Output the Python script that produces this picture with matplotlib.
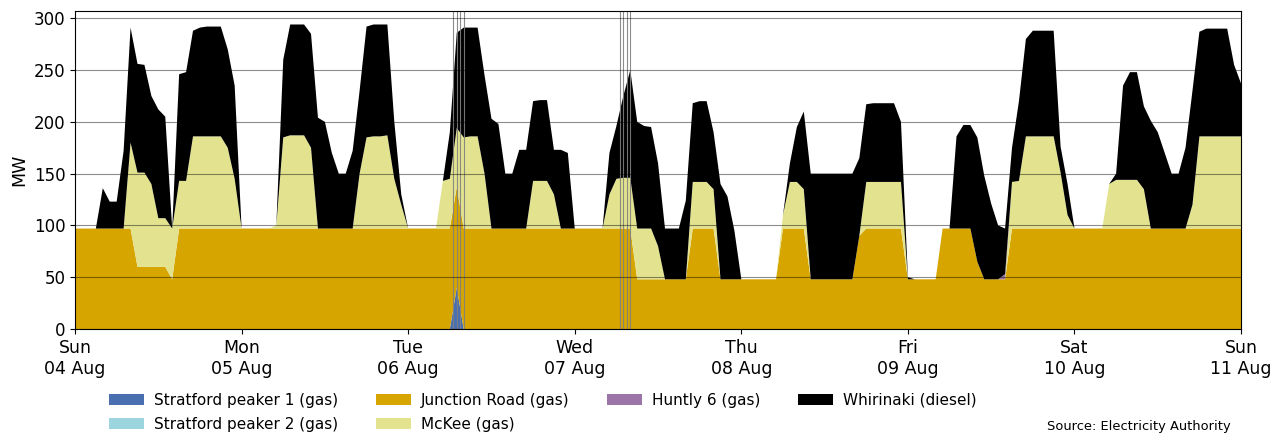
import numpy as np
import pandas as pd
import matplotlib
matplotlib.use("Agg")
import matplotlib.pyplot as plt
import matplotlib.dates as mdates

# hourly generation (MW), Sun 04 Aug 00:00 -> Sun 11 Aug 00:00
horas = pd.date_range("2024-08-04 00:00", periods=169, freq="h")

stratford_1 = [
    0, 0, 0, 0, 0, 0, 0, 0, 0, 0, 0, 0, 0, 0, 0, 0, 0, 0, 0, 0, 0, 0, 0, 0,   # Sun
    0, 0, 0, 0, 0, 0, 0, 0, 0, 0, 0, 0, 0, 0, 0, 0, 0, 0, 0, 0, 0, 0, 0, 0,   # Mon
    0, 0, 0, 0, 0, 0, 0, 40, 0, 0, 0, 0, 0, 0, 0, 0, 0, 0, 0, 0, 0, 0, 0, 0,  # Tue
    0, 0, 0, 0, 0, 0, 0, 0, 0, 0, 0, 0, 0, 0, 0, 0, 0, 0, 0, 0, 0, 0, 0, 0,   # Wed
    0, 0, 0, 0, 0, 0, 0, 0, 0, 0, 0, 0, 0, 0, 0, 0, 0, 0, 0, 0, 0, 0, 0, 0,   # Thu
    0, 0, 0, 0, 0, 0, 0, 0, 0, 0, 0, 0, 0, 0, 0, 0, 0, 0, 0, 0, 0, 0, 0, 0,   # Fri
    0, 0, 0, 0, 0, 0, 0, 0, 0, 0, 0, 0, 0, 0, 0, 0, 0, 0, 0, 0, 0, 0, 0, 0,   # Sat
    0]

stratford_2 = [
    0, 0, 0, 0, 0, 0, 0, 0, 0, 0, 0, 0, 0, 0, 0, 0, 0, 0, 0, 0, 0, 0, 0, 0,
    0, 0, 0, 0, 0, 0, 0, 0, 0, 0, 0, 0, 0, 0, 0, 0, 0, 0, 0, 0, 0, 0, 0, 0,
    0, 0, 0, 0, 0, 0, 0, 0, 0, 0, 0, 0, 0, 0, 0, 0, 0, 0, 0, 0, 0, 0, 0, 0,
    0, 0, 0, 0, 0, 0, 0, 0, 0, 0, 0, 0, 0, 0, 0, 0, 0, 0, 0, 0, 0, 0, 0, 0,
    0, 0, 0, 0, 0, 0, 0, 0, 0, 0, 0, 0, 0, 0, 0, 0, 0, 0, 0, 0, 0, 0, 0, 0,
    0, 0, 0, 0, 0, 0, 0, 0, 0, 0, 0, 0, 0, 0, 0, 0, 0, 0, 0, 0, 0, 0, 0, 0,
    0, 0, 0, 0, 0, 0, 0, 0, 0, 0, 0, 0, 0, 0, 0, 0, 0, 0, 0, 0, 0, 0, 0, 0,
    0]

junction_road = [
    97, 97, 97, 97, 97, 97, 97, 97, 97, 60, 60, 60, 60, 60, 48, 97, 97, 97, 97, 97, 97, 97, 97, 97,
    97, 97, 97, 97, 97, 97, 97, 97, 97, 97, 97, 97, 97, 97, 97, 97, 97, 97, 97, 97, 97, 97, 97, 97,
    97, 97, 97, 97, 97, 97, 97, 97, 97, 97, 97, 97, 97, 97, 97, 97, 97, 97, 97, 97, 97, 97, 97, 97,
    97, 97, 97, 97, 97, 97, 97, 97, 97, 48, 48, 48, 48, 48, 48, 48, 48, 97, 97, 97, 97, 48, 48, 48,
    48, 48, 48, 48, 48, 48, 97, 97, 97, 97, 48, 48, 48, 48, 48, 48, 48, 90, 97, 97, 97, 97, 97, 97,
    48, 48, 48, 48, 48, 97, 97, 97, 97, 97, 65, 48, 48, 48, 48, 97, 97, 97, 97, 97, 97, 97, 97, 97,
    97, 97, 97, 97, 97, 97, 97, 97, 97, 97, 97, 97, 97, 97, 97, 97, 97, 97, 97, 97, 97, 97, 97, 97,
    97]

mckee = [
    0, 0, 0, 0, 0, 0, 0, 0, 83, 91, 91, 80, 47, 47, 49, 46, 46, 89, 89, 89, 89, 89, 78, 48,
    0, 0, 0, 0, 0, 3, 88, 90, 90, 90, 78, 0, 0, 0, 0, 0, 0, 53, 88, 89, 89, 90, 48, 23,
    0, 0, 0, 0, 0, 46, 48, 57, 88, 89, 89, 53, 0, 0, 0, 0, 0, 0, 46, 46, 46, 33, 0, 0,
    0, 0, 0, 0, 0, 33, 48, 49, 49, 49, 49, 49, 32, 0, 0, 0, 0, 45, 45, 45, 38, 0, 0, 0,
    0, 0, 0, 0, 0, 0, 13, 45, 45, 38, 0, 0, 0, 0, 0, 0, 0, 0, 45, 45, 45, 45, 45, 45,
    0, 0, 0, 0, 0, 0, 0, 0, 0, 0, 0, 0, 0, 0, 0, 45, 46, 89, 89, 89, 89, 89, 54, 13,
    0, 0, 0, 0, 0, 43, 47, 47, 47, 47, 38, 0, 0, 0, 0, 0, 0, 23, 89, 89, 89, 89, 89, 89,
    89]

huntly_6 = [
    0, 0, 0, 0, 0, 0, 0, 0, 0, 0, 0, 0, 0, 0, 0, 0, 0, 0, 0, 0, 0, 0, 0, 0,
    0, 0, 0, 0, 0, 0, 0, 0, 0, 0, 0, 0, 0, 0, 0, 0, 0, 0, 0, 0, 0, 0, 0, 0,
    0, 0, 0, 0, 0, 0, 0, 0, 0, 0, 0, 0, 0, 0, 0, 0, 0, 0, 0, 0, 0, 0, 0, 0,
    0, 0, 0, 0, 0, 0, 0, 0, 0, 0, 0, 0, 0, 0, 0, 0, 0, 0, 0, 0, 0, 0, 0, 0,
    0, 0, 0, 0, 0, 0, 0, 0, 0, 0, 0, 0, 0, 0, 0, 0, 0, 0, 0, 0, 0, 0, 0, 0,
    0, 0, 0, 0, 0, 0, 0, 0, 0, 0, 0, 0, 0, 0, 5, 0, 0, 0, 0, 0, 0, 0, 0, 0,
    0, 0, 0, 0, 0, 0, 0, 0, 0, 0, 0, 0, 0, 0, 0, 0, 0, 0, 0, 0, 0, 0, 0, 0,
    0]

whirinaki = [
    0, 0, 0, 0, 39, 26, 26, 75, 111, 105, 104, 85, 105, 98, 0, 103, 105, 102, 105, 106, 106, 106, 95, 90,
    0, 0, 0, 0, 0, 0, 75, 107, 107, 107, 110, 107, 103, 73, 53, 53, 75, 80, 107, 108, 108, 107, 55, 10,
    0, 0, 0, 0, 0, 0, 45, 92, 106, 105, 105, 95, 106, 101, 53, 53, 76, 76, 77, 78, 78, 43, 76, 73,
    0, 0, 0, 0, 0, 40, 51, 79, 104, 103, 99, 98, 80, 49, 49, 49, 76, 76, 78, 78, 55, 92, 80, 47,
    0, 0, 0, 0, 0, 0, 0, 18, 53, 75, 102, 102, 102, 102, 102, 102, 102, 75, 75, 76, 76, 76, 76, 58,
    2, 0, 0, 0, 0, 0, 0, 89, 100, 100, 120, 100, 73, 52, 44, 33, 77, 94, 102, 102, 102, 102, 25, 30,
    0, 0, 0, 0, 0, 0, 6, 91, 104, 104, 80, 104, 93, 73, 53, 53, 78, 110, 101, 104, 104, 104, 104, 69,
    51]

nombres = ["Stratford peaker 1 (gas)", "Stratford peaker 2 (gas)", "Junction Road (gas)",
           "McKee (gas)", "Huntly 6 (gas)", "Whirinaki (diesel)"]
colores = ["#4a6fb1", "#9dd5de", "#d6a500", "#e3e38f", "#9b74a8", "#000000"]

# momentos marcados con lineas verticales
marcas = ["2024-08-06 06:30", "2024-08-06 07:00", "2024-08-06 07:30", "2024-08-06 08:00",
          "2024-08-07 06:30", "2024-08-07 07:00", "2024-08-07 07:30", "2024-08-07 08:00"]

fig = plt.figure(figsize=(12.87, 4.34), dpi=100)
ax = fig.add_axes([0.0583, 0.2419, 0.9060, 0.7327])

polys = ax.stackplot(horas, stratford_1, stratford_2, junction_road, mckee, huntly_6, whirinaki,
                     colors=colores, labels=nombres, linewidth=0)

for m in marcas:
    ax.axvline(pd.Timestamp(m), color='gray', linewidth=0.8, alpha=0.9)

ax.set_xlim(horas[0], horas[-1])
ax.set_ylim(0, 307)
ax.set_yticks([0, 50, 100, 150, 200, 250, 300])
ax.yaxis.grid(True, color='black', alpha=0.45, linewidth=0.8)
ax.set_axisbelow(False)

ax.xaxis.set_major_locator(mdates.DayLocator())
ax.xaxis.set_major_formatter(mdates.DateFormatter('%a\n%d %b'))
ax.tick_params(axis='x', labelsize=12.5)
ax.tick_params(axis='y', labelsize=12)
ax.set_ylabel('MW', fontsize=12.5)

fig.legend(handles=polys, labels=nombres, loc='upper left', bbox_to_anchor=(0.0742, 0.1267),
           ncol=4, frameon=False, fontsize=11, handlelength=2.3, handletextpad=0.65,
           columnspacing=2.45, labelspacing=0.58)
fig.text(0.9565, 0.018, 'Source: Electricity Authority', ha='right', va='center', fontsize=9.4)

fig.savefig("out.png", dpi=100)
